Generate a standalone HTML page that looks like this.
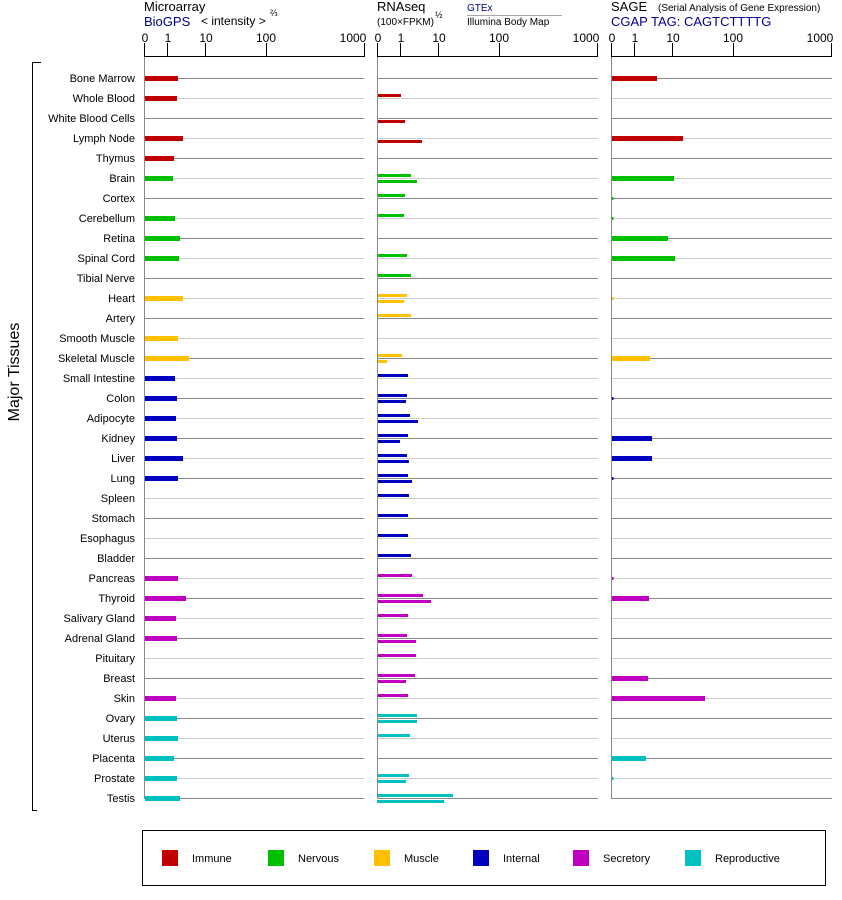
<!DOCTYPE html>
<html><head><meta charset="utf-8"><style>
html,body{margin:0;padding:0;background:#fff;}
svg{display:block;font-family:"Liberation Sans",Arial,sans-serif;}
</style></head><body>
<svg width="842" height="900" viewBox="0 0 842 900" xmlns="http://www.w3.org/2000/svg">
<text x="144" y="11" font-size="13">Microarray</text>
<text x="144" y="26" font-size="13" fill="#00008b">BioGPS</text>
<text x="201" y="25" font-size="12">&lt; intensity &gt;</text>
<text x="270" y="16" font-size="9">⅔</text>
<text x="377" y="11" font-size="13">RNAseq</text>
<text x="377" y="25" font-size="10">(100×FPKM)</text>
<text x="435" y="18" font-size="9">½</text>
<text x="467" y="11" font-size="10" fill="#00008b">GTEx</text>
<line x1="467" y1="15.5" x2="562" y2="15.5" stroke="#aaa"/>
<text x="467" y="25" font-size="10">Illumina Body Map</text>
<text x="611" y="11" font-size="13">SAGE</text>
<text x="658" y="11" font-size="10">(Serial Analysis of Gene Expression)</text>
<text x="611" y="26" font-size="13" fill="#00008b">CGAP TAG: CAGTCTTTTG</text>
<g font-size="12" text-anchor="middle">
<text x="145" y="42">0</text><text x="168" y="42">1</text><text x="206" y="42">10</text><text x="266" y="42">100</text><text x="353" y="42">1000</text>
<text x="378" y="42">0</text><text x="401" y="42">1</text><text x="439" y="42">10</text><text x="499" y="42">100</text><text x="586" y="42">1000</text>
<text x="612" y="42">0</text><text x="635" y="42">1</text><text x="673" y="42">10</text><text x="733" y="42">100</text><text x="820" y="42">1000</text>
</g>
<g stroke="#000" stroke-width="1">
<line x1="144.5" y1="56.5" x2="365" y2="56.5"/>
<line x1="144.5" y1="43" x2="144.5" y2="57"/><line x1="167.5" y1="43" x2="167.5" y2="57"/><line x1="205.5" y1="43" x2="205.5" y2="57"/><line x1="266.5" y1="43" x2="266.5" y2="57"/><line x1="364.5" y1="43" x2="364.5" y2="57"/>
<line x1="377.5" y1="56.5" x2="598" y2="56.5"/>
<line x1="377.5" y1="43" x2="377.5" y2="57"/><line x1="400.5" y1="43" x2="400.5" y2="57"/><line x1="438.5" y1="43" x2="438.5" y2="57"/><line x1="499.5" y1="43" x2="499.5" y2="57"/><line x1="597.5" y1="43" x2="597.5" y2="57"/>
<line x1="611.5" y1="56.5" x2="832" y2="56.5"/>
<line x1="611.5" y1="43" x2="611.5" y2="57"/><line x1="634.5" y1="43" x2="634.5" y2="57"/><line x1="672.5" y1="43" x2="672.5" y2="57"/><line x1="733.5" y1="43" x2="733.5" y2="57"/><line x1="831.5" y1="43" x2="831.5" y2="57"/>
</g>
<g stroke-width="1">
<g stroke="#888">
<path d="M144 78.5H364M377 78.5H598M611 78.5H832M144 118.5H364M377 118.5H598M611 118.5H832M144 158.5H364M377 158.5H598M611 158.5H832M144 198.5H364M377 198.5H598M611 198.5H832M144 238.5H364M377 238.5H598M611 238.5H832M144 278.5H364M377 278.5H598M611 278.5H832M144 318.5H364M377 318.5H598M611 318.5H832M144 358.5H364M377 358.5H598M611 358.5H832M144 398.5H364M377 398.5H598M611 398.5H832M144 438.5H364M377 438.5H598M611 438.5H832M144 478.5H364M377 478.5H598M611 478.5H832M144 518.5H364M377 518.5H598M611 518.5H832M144 558.5H364M377 558.5H598M611 558.5H832M144 598.5H364M377 598.5H598M611 598.5H832M144 638.5H364M377 638.5H598M611 638.5H832M144 678.5H364M377 678.5H598M611 678.5H832M144 718.5H364M377 718.5H598M611 718.5H832M144 758.5H364M377 758.5H598M611 758.5H832M144 798.5H364M377 798.5H598M611 798.5H832" fill="none"/>
</g>
<g stroke="#ccc">
<path d="M144 98.5H364M377 98.5H598M611 98.5H832M144 138.5H364M377 138.5H598M611 138.5H832M144 178.5H364M377 178.5H598M611 178.5H832M144 218.5H364M377 218.5H598M611 218.5H832M144 258.5H364M377 258.5H598M611 258.5H832M144 298.5H364M377 298.5H598M611 298.5H832M144 338.5H364M377 338.5H598M611 338.5H832M144 378.5H364M377 378.5H598M611 378.5H832M144 418.5H364M377 418.5H598M611 418.5H832M144 458.5H364M377 458.5H598M611 458.5H832M144 498.5H364M377 498.5H598M611 498.5H832M144 538.5H364M377 538.5H598M611 538.5H832M144 578.5H364M377 578.5H598M611 578.5H832M144 618.5H364M377 618.5H598M611 618.5H832M144 658.5H364M377 658.5H598M611 658.5H832M144 698.5H364M377 698.5H598M611 698.5H832M144 738.5H364M377 738.5H598M611 738.5H832M144 778.5H364M377 778.5H598M611 778.5H832" fill="none"/>
</g>
<g stroke="#888">
<line x1="144.5" y1="57" x2="144.5" y2="799"/>
<line x1="377.5" y1="57" x2="377.5" y2="799"/>
<line x1="611.5" y1="57" x2="611.5" y2="799"/>
</g>
</g>
<path d="M41 62.5H32.5V810.5H37" fill="none" stroke="#000"/>
<text x="19" y="372" font-size="16" text-anchor="middle" transform="rotate(-90 19 372)">Major Tissues</text>
<g font-size="11" text-anchor="end">
<text x="135" y="82">Bone Marrow</text><text x="135" y="102">Whole Blood</text><text x="135" y="122">White Blood Cells</text><text x="135" y="142">Lymph Node</text><text x="135" y="162">Thymus</text>
<text x="135" y="182">Brain</text><text x="135" y="202">Cortex</text><text x="135" y="222">Cerebellum</text><text x="135" y="242">Retina</text><text x="135" y="262">Spinal Cord</text><text x="135" y="282">Tibial Nerve</text>
<text x="135" y="302">Heart</text><text x="135" y="322">Artery</text><text x="135" y="342">Smooth Muscle</text><text x="135" y="362">Skeletal Muscle</text>
<text x="135" y="382">Small Intestine</text><text x="135" y="402">Colon</text><text x="135" y="422">Adipocyte</text><text x="135" y="442">Kidney</text><text x="135" y="462">Liver</text><text x="135" y="482">Lung</text><text x="135" y="502">Spleen</text><text x="135" y="522">Stomach</text><text x="135" y="542">Esophagus</text><text x="135" y="562">Bladder</text>
<text x="135" y="582">Pancreas</text><text x="135" y="602">Thyroid</text><text x="135" y="622">Salivary Gland</text><text x="135" y="642">Adrenal Gland</text><text x="135" y="662">Pituitary</text><text x="135" y="682">Breast</text><text x="135" y="702">Skin</text>
<text x="135" y="722">Ovary</text><text x="135" y="742">Uterus</text><text x="135" y="762">Placenta</text><text x="135" y="782">Prostate</text><text x="135" y="802">Testis</text>
</g>
<g fill="#c00000">
<rect x="145" y="76" width="33" height="5"/><rect x="145" y="96" width="32" height="5"/><rect x="145" y="136" width="38" height="5"/><rect x="145" y="156" width="29" height="5"/>
<rect x="612" y="76" width="45" height="5"/><rect x="612" y="136" width="71" height="5"/>
<rect x="378" y="94" width="23" height="3"/><rect x="378" y="120" width="27" height="3"/><rect x="378" y="140" width="44" height="3"/>
</g>
<g fill="#00c000">
<rect x="145" y="176" width="28" height="5"/><rect x="145" y="216" width="30" height="5"/><rect x="145" y="236" width="35" height="5"/><rect x="145" y="256" width="34" height="5"/>
<rect x="612" y="176" width="62" height="5"/><rect x="612" y="197" width="1.5" height="3"/><rect x="612" y="217" width="1.5" height="3"/><rect x="612" y="236" width="56" height="5"/><rect x="612" y="256" width="63" height="5"/>
<rect x="378" y="174" width="33" height="3"/><rect x="378" y="180" width="39" height="3"/><rect x="378" y="194" width="27" height="3"/><rect x="378" y="214" width="26" height="3"/><rect x="378" y="254" width="29" height="3"/><rect x="378" y="274" width="33" height="3"/>
</g>
<g fill="#ffc000">
<rect x="145" y="296" width="38" height="5"/><rect x="145" y="336" width="33" height="5"/><rect x="145" y="356" width="44" height="5"/>
<rect x="612" y="297" width="1.5" height="3"/><rect x="612" y="356" width="38" height="5"/>
<rect x="378" y="294" width="29" height="3"/><rect x="378" y="300" width="26" height="3"/><rect x="378" y="314" width="33" height="3"/><rect x="378" y="354" width="24" height="3"/><rect x="378" y="360" width="9" height="3"/>
</g>
<g fill="#0000c0">
<rect x="145" y="376" width="30" height="5"/><rect x="145" y="396" width="32" height="5"/><rect x="145" y="416" width="31" height="5"/><rect x="145" y="436" width="32" height="5"/><rect x="145" y="456" width="38" height="5"/><rect x="145" y="476" width="33" height="5"/>
<rect x="612" y="397" width="1.5" height="3"/><rect x="612" y="436" width="40" height="5"/><rect x="612" y="456" width="40" height="5"/><rect x="612" y="477" width="1.5" height="3"/>
<rect x="378" y="374" width="30" height="3"/><rect x="378" y="394" width="29" height="3"/><rect x="378" y="400" width="28" height="3"/><rect x="378" y="414" width="32" height="3"/><rect x="378" y="420" width="40" height="3"/><rect x="378" y="434" width="30" height="3"/><rect x="378" y="440" width="22" height="3"/><rect x="378" y="454" width="29" height="3"/><rect x="378" y="460" width="31" height="3"/><rect x="378" y="474" width="30" height="3"/><rect x="378" y="480" width="34" height="3"/>
<rect x="378" y="494" width="31" height="3"/><rect x="378" y="514" width="30" height="3"/><rect x="378" y="534" width="30" height="3"/><rect x="378" y="554" width="33" height="3"/>
</g>
<g fill="#c000c0">
<rect x="145" y="576" width="33" height="5"/><rect x="145" y="596" width="41" height="5"/><rect x="145" y="616" width="31" height="5"/><rect x="145" y="636" width="32" height="5"/><rect x="145" y="696" width="31" height="5"/>
<rect x="612" y="577" width="1.5" height="3"/><rect x="612" y="596" width="37" height="5"/><rect x="612" y="676" width="36" height="5"/><rect x="612" y="696" width="93" height="5"/>
<rect x="378" y="574" width="34" height="3"/><rect x="378" y="594" width="45" height="3"/><rect x="378" y="600" width="53" height="3"/><rect x="378" y="614" width="30" height="3"/><rect x="378" y="634" width="29" height="3"/><rect x="378" y="640" width="38" height="3"/><rect x="378" y="654" width="38" height="3"/><rect x="378" y="674" width="37" height="3"/><rect x="378" y="680" width="28" height="3"/><rect x="378" y="694" width="30" height="3"/>
</g>
<g fill="#00c0c0">
<rect x="145" y="716" width="32" height="5"/><rect x="145" y="736" width="33" height="5"/><rect x="145" y="756" width="29" height="5"/><rect x="145" y="776" width="32" height="5"/><rect x="145" y="796" width="35" height="5"/>
<rect x="612" y="756" width="34" height="5"/><rect x="612" y="777" width="1.5" height="3"/>
<rect x="378" y="714" width="39" height="3"/><rect x="378" y="720" width="39" height="3"/><rect x="378" y="734" width="32" height="3"/><rect x="378" y="774" width="31" height="3"/><rect x="378" y="780" width="28" height="3"/><rect x="378" y="794" width="75" height="3"/><rect x="377" y="800" width="67" height="3"/>
</g>
<rect x="142.5" y="830.5" width="683" height="55" fill="none" stroke="#000"/>
<g font-size="11">
<rect x="162" y="850" width="16" height="16" fill="#c00000"/><text x="192" y="862">Immune</text>
<rect x="268" y="850" width="16" height="16" fill="#00c000"/><text x="298" y="862">Nervous</text>
<rect x="374" y="850" width="16" height="16" fill="#ffc000"/><text x="404" y="862">Muscle</text>
<rect x="473" y="850" width="16" height="16" fill="#0000c0"/><text x="503" y="862">Internal</text>
<rect x="573" y="850" width="16" height="16" fill="#c000c0"/><text x="603" y="862">Secretory</text>
<rect x="685" y="850" width="16" height="16" fill="#00c0c0"/><text x="715" y="862">Reproductive</text>
</g>
</svg>
</body></html>
